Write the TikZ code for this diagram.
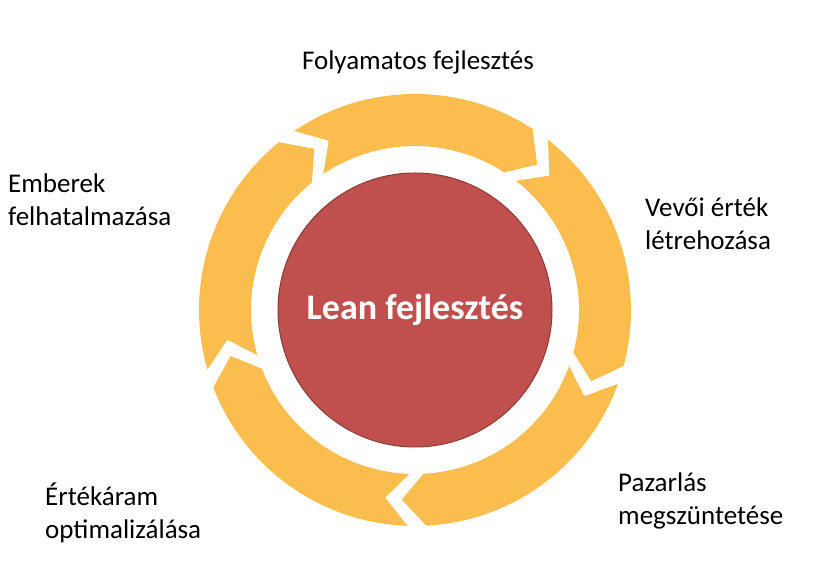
\documentclass[tikz,border=0pt]{standalone}
\usepackage{fontspec}
\setmainfont{Carlito}
\usetikzlibrary{calc}
\definecolor{segy}{HTML}{FBBE4E}
\definecolor{segr}{HTML}{C0504D}
\definecolor{segrb}{HTML}{8C3A38}
\begin{document}
\begin{tikzpicture}[x=1pt,y=1pt,
  lbl/.style={font=\fontsize{27}{33}\selectfont,align=left,anchor=west,inner sep=0pt}]
\useasboundingbox (0,0) rectangle (815,578);
\coordinate (c) at (415,268);
\foreach \s in {52,-20,-92,-164,-236}{
  \pgfmathsetmacro{\e}{\s-67}
  \fill[segy] ($(c)+(\s:216)$) arc[start angle=\s,end angle=\e,radius=216]
    -- ($(c)+(\e-7:190)$) -- ($(c)+(\e:164)$)
    arc[start angle=\e,end angle=\s,radius=164]
    -- ($(c)+(\s-7:190)$) -- cycle;
}
\node[circle,fill=segr,draw=segrb,line width=1pt,minimum size=274pt,
  text=white,font=\fontsize{36}{42}\selectfont\bfseries] (core) at (c) {Lean fejlesztés};
\node[font=\fontsize{27}{33}\selectfont,inner sep=0pt] (l1) at (418,516) {Folyamatos fejlesztés};
\node[lbl] (l2) at (645,354) {Vevői érték\\létrehozása};
\node[lbl] (l3) at (618,77) {Pazarlás\\megszüntetése};
\node[lbl] (l4) at (45,65) {Értékáram\\optimalizálása};
\node[lbl] (l5) at (8,378) {Emberek\\felhatalmazása};
\end{tikzpicture}
\end{document}
